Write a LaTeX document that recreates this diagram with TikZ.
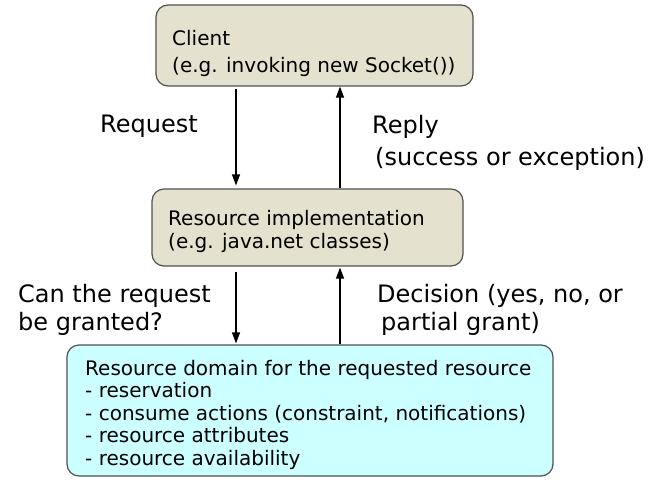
\documentclass[tikz,border=0pt]{standalone}
\usepackage{fontspec}
\setmainfont{DejaVu Sans}
\usetikzlibrary{arrows.meta}

\definecolor{ImplBeige}{RGB}{228, 225, 206}
\definecolor{DomainCyan}{RGB}{204, 255, 255}
\definecolor{BoxEdge}{RGB}{80, 80, 80}

\begin{document}
\begin{tikzpicture}[x=1pt, y=-1pt,
  box/.style={draw=BoxEdge, line width=1.2pt, rounded corners=12pt, inner sep=0pt},
  boxtext/.style={anchor=base west, align=left, inner sep=0pt, font=\fontsize{20}{23}\selectfont},
  lbl/.style={anchor=base west, align=left, inner sep=0pt, font=\fontsize{24}{30}\selectfont},
  flow/.style={-{Triangle[length=11pt,width=8pt]}, line width=1.2pt}]

\useasboundingbox (0,0) rectangle (652,479);

% the three layers
\node[box, fill=ImplBeige, minimum width=317pt, minimum height=81pt] (client) at (314.5,45.5) {};
\node[box, fill=ImplBeige, minimum width=311pt, minimum height=77pt] (impl) at (307.5,227.5) {};
\node[box, fill=DomainCyan, minimum width=486pt, minimum height=131pt] (domain) at (310,410.5) {};

% base of a multi-line node is its last line
\node[boxtext, font=\fontsize{20}{27}\selectfont] (clienttext) at (172,72) {Client\\(e.g. invoking new Socket())};
\node[boxtext] (impltext) at (168,248) {Resource implementation\\(e.g. java.net classes)};
\node[boxtext, font=\fontsize{20}{22.5}\selectfont] (domaintext) at (85,465) {Resource domain for the requested resource\\- reservation\\- consume actions (constraint, notifications)\\- resource attributes\\- resource availability};

% calls down, answers up
\coordinate (downx) at (236,0);
\coordinate (upx) at (340,0);

\draw[flow, shorten <=2pt, shorten >=3pt] (client.south -| downx) -- (impl.north -| downx);
\draw[flow] (impl.north -| upx) -- (client.south -| upx);
\draw[flow, shorten <=5pt, shorten >=1pt] (impl.south -| downx) -- (domain.north -| downx);
\draw[flow, shorten >=1pt] (domain.north -| upx) -- (impl.south -| upx);

\node[lbl] (request) at (100,132) {Request};
\node[lbl, font=\fontsize{24}{32}\selectfont] (reply) at (372,165) {Reply\\\hspace*{3pt}(success or exception)};
\node[lbl, font=\fontsize{24}{28}\selectfont] (granted) at (18,330) {Can the request\\be granted?};
\node[lbl, font=\fontsize{24}{28}\selectfont] (decision) at (377,330) {Decision (yes, no, or\\\hspace*{4pt}partial grant)};

\end{tikzpicture}
\end{document}
